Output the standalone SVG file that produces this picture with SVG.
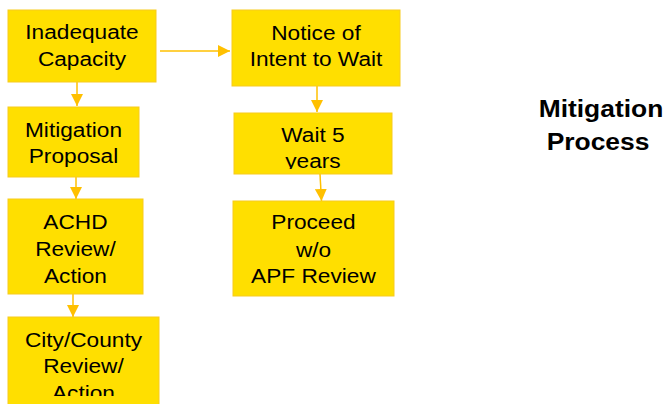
<svg xmlns="http://www.w3.org/2000/svg" width="667" height="404" viewBox="0 0 667 404">
<style>
.box{fill:#FFDF00;stroke:#F7CB1E;stroke-width:1}
.t{font-family:"Liberation Sans",Arial,sans-serif;font-size:21px;fill:#000;text-anchor:middle;transform-box:fill-box;transform-origin:center;transform:scaleX(1.08)}
.title{font-family:"Liberation Sans",Arial,sans-serif;font-size:24px;font-weight:bold;fill:#000;text-anchor:middle;transform-box:fill-box;transform-origin:center;transform:scaleX(1.1)}
.c{stroke:#FFC000;stroke-width:1.5;fill:none;marker-end:url(#ah)}
</style>
<defs>
<marker id="ah" markerUnits="userSpaceOnUse" markerWidth="12" markerHeight="12" refX="12" refY="6" orient="auto">
<path d="M0,0 L12,6 L0,12 Z" fill="#FFC000"/>
</marker>
<clipPath id="clipWait"><rect x="234" y="113" width="158" height="56"/></clipPath>
<clipPath id="clipCity"><rect x="8" y="317" width="151" height="79"/></clipPath>
</defs>
<rect width="667" height="404" fill="#fff"/>
<g id="connectors">
<line class="c" x1="160" y1="51" x2="230" y2="51"/>
<line class="c" x1="77" y1="82" x2="77" y2="106"/>
<line class="c" x1="76" y1="177" x2="76" y2="199"/>
<line class="c" x1="73" y1="294" x2="73" y2="317"/>
<line class="c" x1="317" y1="86" x2="317" y2="112"/>
<line class="c" x1="320" y1="174" x2="321.5" y2="201"/>
</g>
<g id="inadequate">
<rect class="box" x="8" y="10" width="148" height="72"/>
<text class="t" x="82" y="39.5">Inadequate</text>
<text class="t" x="82" y="66">Capacity</text>
</g>
<g id="mitigation">
<rect class="box" x="8" y="107" width="131" height="70"/>
<text class="t" x="73.5" y="137">Mitigation</text>
<text class="t" x="73.5" y="163.5">Proposal</text>
</g>
<g id="achd">
<rect class="box" x="8" y="199" width="135" height="95"/>
<text class="t" x="75.5" y="229">ACHD</text>
<text class="t" x="75.5" y="256">Review/</text>
<text class="t" x="75.5" y="283">Action</text>
</g>
<g id="citycounty">
<rect class="box" x="8" y="317" width="151" height="95"/>
<g clip-path="url(#clipCity)">
<text class="t" x="83.5" y="347">City/County</text>
<text class="t" x="83.5" y="373.5">Review/</text>
<text class="t" x="83.5" y="400.5">Action</text>
</g>
</g>
<g id="notice">
<rect class="box" x="232" y="10" width="168" height="76"/>
<text class="t" x="316" y="40">Notice of</text>
<text class="t" x="316" y="66">Intent to Wait</text>
</g>
<g id="wait">
<rect class="box" x="234" y="113" width="158" height="61"/>
<g clip-path="url(#clipWait)">
<text class="t" x="313" y="142.3">Wait 5</text>
<text class="t" x="313" y="168.5">years</text>
</g>
</g>
<g id="proceed">
<rect class="box" x="233" y="201" width="161" height="95"/>
<text class="t" x="313.5" y="229.5">Proceed</text>
<text class="t" x="313.5" y="257">w/o</text>
<text class="t" x="313.5" y="283.5">APF Review</text>
</g>
<g id="title">
<text class="title" x="601" y="117">Mitigation</text>
<text class="title" x="598" y="150">Process</text>
</g>
</svg>
